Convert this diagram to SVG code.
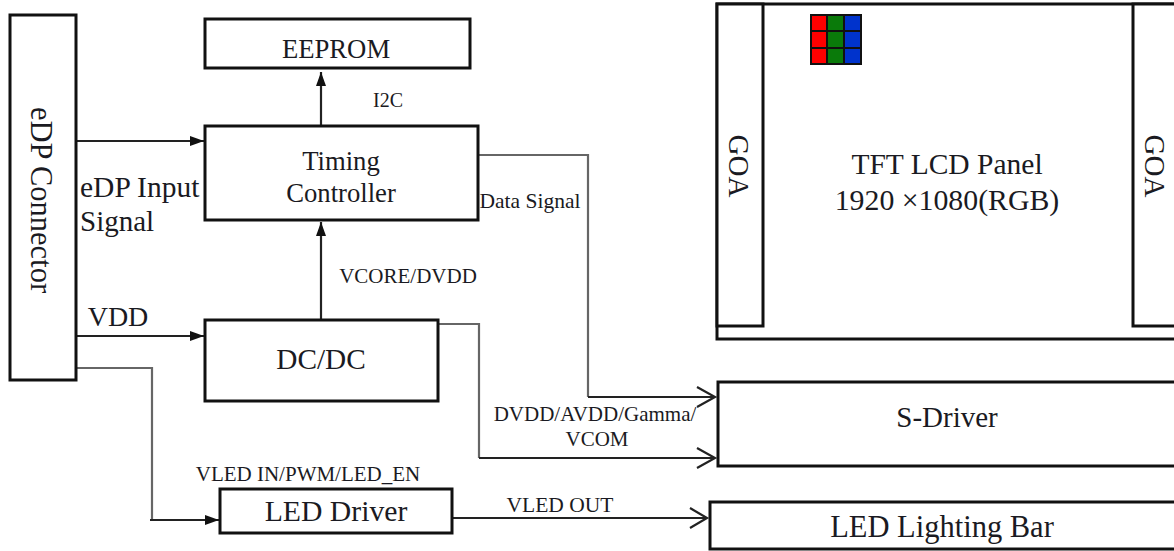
<svg xmlns="http://www.w3.org/2000/svg" width="1174" height="551" viewBox="0 0 1174 551">
<style>
text{font-family:"Liberation Serif","Times New Roman",serif;fill:#1a1a22;text-anchor:middle}
.b{fill:#fff;stroke:#111;stroke-width:3}
.c{fill:none;stroke:#222;stroke-width:2.2}
.t{fill:none;stroke:#666;stroke-width:2.2}
.s{font-size:21px}
</style>
<defs>
<marker id="a" markerUnits="userSpaceOnUse" markerWidth="16" markerHeight="12" refX="14" refY="6" orient="auto"><path d="M0 1L14 6L0 11Z" fill="#111"/></marker>
</defs>
<g id="connectors">
<path class="c" d="M77 141H204" marker-end="url(#a)"/>
<path class="c" d="M77 336H204" marker-end="url(#a)"/>
<path class="t" d="M77 368H152V520"/><path class="c" d="M150 520H219" marker-end="url(#a)"/>
<path class="c" d="M321 126V72" marker-end="url(#a)"/>
<path class="c" d="M321 319V222" marker-end="url(#a)"/>
<path class="t" d="M479 155H588V397"/><path class="c" d="M588 397H714M697 387L715 397L697 407"/>
<path class="t" d="M438 324H479V458"/><path class="c" d="M479 458H714M697 448L715 458L697 468"/>
<path class="c" d="M453 518H706M690 508L707 518L690 528"/>
</g>
<g id="edp-connector"><rect class="b" x="10" y="15" width="66" height="365"/>
<text transform="translate(31 200) rotate(90)" font-size="30.5">eDP Connector</text></g>
<g id="eeprom"><rect class="b" x="205" y="19" width="265" height="49"/><text x="336" y="58" font-size="26.7">EEPROM</text></g>
<g id="timing-controller"><rect class="b" x="205" y="126" width="273" height="94"/><text x="341" y="170" font-size="26.7">Timing</text><text x="341" y="202" font-size="26.7">Controller</text></g>
<g id="dc-dc"><rect class="b" x="205" y="320" width="233" height="81"/><text x="321" y="369" font-size="29.3">DC/DC</text></g>
<g id="led-driver"><rect class="b" x="220" y="489" width="232" height="44"/><text x="336" y="521" font-size="29.7">LED Driver</text></g>
<g id="s-driver"><rect class="b" x="718" y="382" width="470" height="84"/><text x="947" y="427" font-size="29">S-Driver</text></g>
<g id="led-bar"><rect class="b" x="710" y="502" width="478" height="47"/><text x="942" y="537" font-size="30.5">LED Lighting Bar</text></g>
<g id="panel"><rect class="b" x="717" y="4" width="470" height="335"/>
<rect class="b" x="717" y="4" width="46" height="322"/><rect class="b" x="1133" y="4" width="54" height="322"/>
<text transform="translate(729 166) rotate(90)" font-size="29">GOA</text><text transform="translate(1145 166) rotate(90)" font-size="29">GOA</text>
<text x="947" y="174" font-size="29.5">TFT LCD Panel</text><text x="947" y="210" font-size="29.8">1920 ×1080(RGB)</text>
<g id="pixels"><rect x="810" y="14" width="52" height="51" fill="#111"/>
<rect x="812" y="16" width="14" height="14" fill="#f00"/><rect x="828" y="16" width="15" height="14" fill="#0a7a0a"/><rect x="845" y="16" width="15" height="14" fill="#0033cc"/>
<rect x="812" y="32" width="14" height="15" fill="#f00"/><rect x="828" y="32" width="15" height="15" fill="#0a7a0a"/><rect x="845" y="32" width="15" height="15" fill="#0033cc"/>
<rect x="812" y="49" width="14" height="14" fill="#f00"/><rect x="828" y="49" width="15" height="14" fill="#0a7a0a"/><rect x="845" y="49" width="15" height="14" fill="#0033cc"/></g></g>
<g id="labels">
<text x="388" y="107" font-size="20">I2C</text>
<text x="80" y="197" font-size="29.5" style="text-anchor:start">eDP Input</text><text x="80" y="231" font-size="29" style="text-anchor:start">Signal</text>
<text x="530" y="208" font-size="21.5">Data Signal</text>
<text x="408" y="283" class="s">VCORE/DVDD</text>
<text x="118" y="326" font-size="28">VDD</text>
<text x="595" y="421" class="s">DVDD/AVDD/Gamma/</text><text x="597" y="446" class="s">VCOM</text>
<text x="308" y="481" class="s">VLED IN/PWM/LED_EN</text>
<text x="560" y="512" font-size="21.5">VLED OUT</text>
</g>
</svg>
